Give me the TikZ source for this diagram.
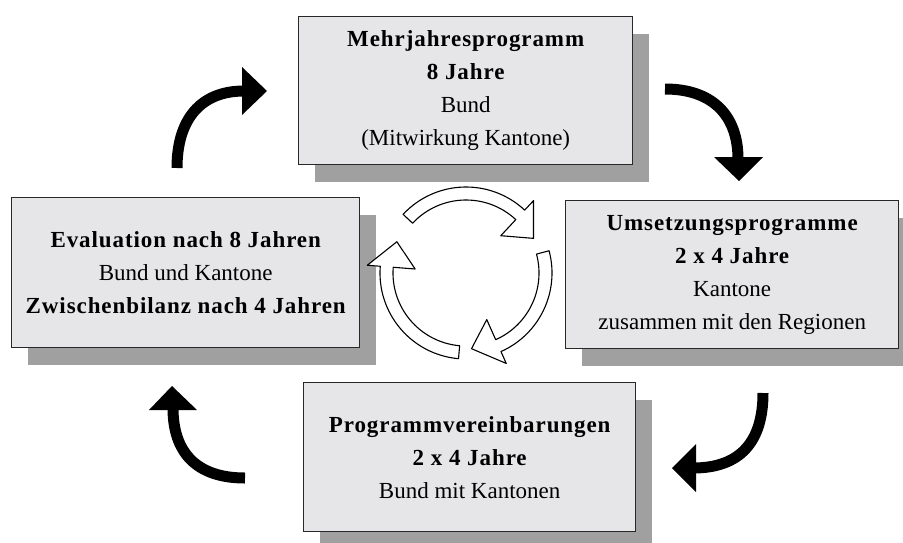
\documentclass[tikz,border=0pt]{standalone}
\usepackage{fontspec}
\setmainfont{Liberation Serif}
\usetikzlibrary{calc,shadows}
\definecolor{boxfill}{RGB}{230,230,232}
\definecolor{shadowgray}{RGB}{160,160,160}
\definecolor{edgecol}{RGB}{40,40,40}
\newcommand\hb[1]{{\bfseries\addfontfeatures{LetterSpace=4}#1}}
\begin{document}
\begin{tikzpicture}[x=1pt,y=-1pt,
  panel/.style={draw=edgecol, line width=1.4pt, fill=boxfill, rectangle, inner sep=0pt,
    anchor=north west, align=center, font=\fontsize{23}{33}\selectfont,
    drop shadow={shadow xshift=16pt, shadow yshift=-17pt, fill=shadowgray, opacity=1, draw=none}},
  bigarrow/.style={line width=11pt, draw=black},
  bighead/.style={fill=black},
  cyc/.style={draw=black, line width=1.1pt, fill=white, line join=round}]
\useasboundingbox (0,0) rectangle (903,542);

% boxes
\node[panel, minimum width=334pt, minimum height=148pt] (mjp) at (298,16)
  {\hb{Mehrjahresprogramm}\\ \hb{8 Jahre}\\ Bund\\ (Mitwirkung Kantone)};
\node[panel, minimum width=348pt, minimum height=150pt] (eval) at (11,197)
  {\hb{Evaluation nach 8 Jahren}\\ Bund und Kantone\\ \hb{Zwischenbilanz nach 4 Jahren}};
\node[panel, minimum width=333pt, minimum height=148pt] (usp) at (565,200)
  {\hb{Umsetzungsprogramme}\\ \hb{2 x 4 Jahre}\\ Kantone\\ zusammen mit den Regionen};
\node[panel, minimum width=332pt, minimum height=149pt] (pv) at (303,382)
  {\hb{Programmvereinbarungen}\\ \hb{2 x 4 Jahre}\\ Bund mit Kantonen};

% outer black arrows
\coordinate (a1s) at (177,168); \coordinate (a1e) at (244,91);
\draw[bigarrow] (a1s) .. controls (177,120) and (200,91) .. (a1e);
\fill[bighead] (242,67) -- (267,91) -- (242,115) -- cycle;

\coordinate (a2s) at (665,89); \coordinate (a2e) at (738,159);
\draw[bigarrow] (a2s) .. controls (712,89) and (738,115) .. (a2e);
\fill[bighead] (714,157) -- (763,157) -- (739,181) -- cycle;

\coordinate (a3s) at (763,393); \coordinate (a3e) at (693,468);
\draw[bigarrow] (a3s) .. controls (763,442) and (740,468) .. (a3e);
\fill[bighead] (696,444) -- (696,492) -- (672,468) -- cycle;

\coordinate (a4s) at (245,478); \coordinate (a4e) at (173,408);
\draw[bigarrow] (a4s) .. controls (196,478) and (173,452) .. (a4e);
\fill[bighead] (149,410) -- (197,410) -- (172,386) -- cycle;

% central cycle arrows
\begin{scope}[shift={(466,273)}, y=1pt]
\draw[cyc] (137:86) arc[start angle=137, end angle=47, radius=86pt] -- (47:99)
  -- ($(47:75)+(-51:26)$) -- (47:51) -- (47:73)
  arc[start angle=47, end angle=137, radius=73pt] -- cycle;
\draw[cyc] (15:86) arc[start angle=15, end angle=-66, radius=86pt] -- (-66:99)
  -- ($(-66:75)+(-164:26)$) -- (-66:51) -- (-66:73)
  arc[start angle=-66, end angle=15, radius=73pt] -- cycle;
\draw[cyc] (-95:86) arc[start angle=-95, end angle=-184.5, radius=86pt] -- (-184.5:99)
  -- ($(-184.5:75)+(77.5:26)$) -- (-184.5:51) -- (-184.5:73)
  arc[start angle=-184.5, end angle=-95, radius=73pt] -- cycle;
\end{scope}
\end{tikzpicture}
\end{document}
